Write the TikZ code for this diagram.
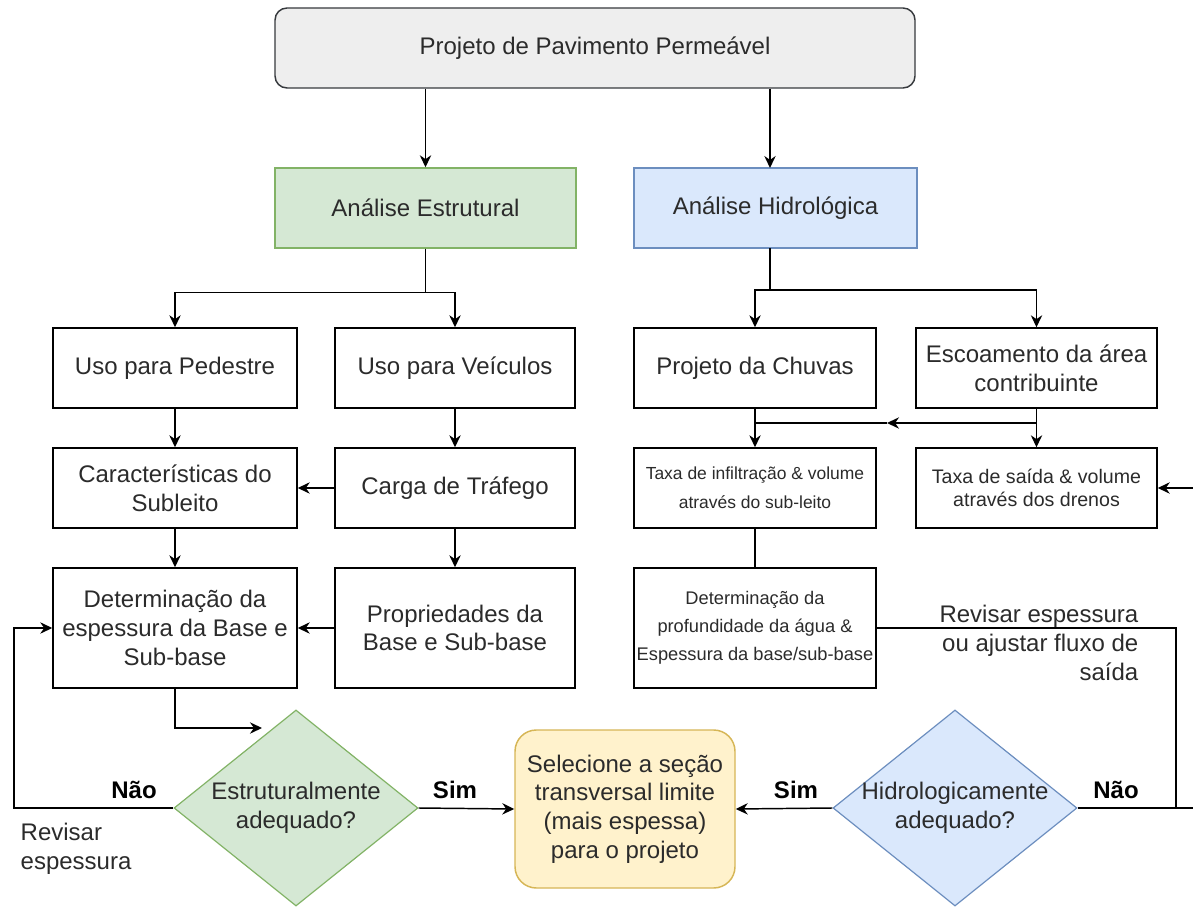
\documentclass[tikz,border=0pt]{standalone}
\usepackage{fontspec}
\setmainfont{Liberation Sans}
\usetikzlibrary{arrows.meta,shapes.geometric,positioning}
\definecolor{ink}{HTML}{000000}
\definecolor{txt}{HTML}{2B2B2B}
\definecolor{greyfill}{HTML}{EEEEEE}
\definecolor{greyline}{HTML}{36393D}
\definecolor{greenfill}{HTML}{D5E8D4}
\definecolor{greenline}{HTML}{82B366}
\definecolor{bluefill}{HTML}{DAE8FC}
\definecolor{blueline}{HTML}{6C8EBF}
\definecolor{yellowfill}{HTML}{FFF2CC}
\definecolor{yellowline}{HTML}{D6B656}
\tikzset{
  box/.style={draw=ink, line width=1.1pt, fill=white, text=txt, align=center, inner sep=2pt,
    minimum height=60pt, font=\fontsize{18}{21.5}\selectfont},
  smallbox/.style={box, font=\fontsize{13.1}{22}\selectfont},
  topbox/.style={box, draw=greyline, fill=greyfill, rounded corners=9pt},
  estrbox/.style={box, draw=greenline, fill=greenfill},
  hidrobox/.style={box, draw=blueline, fill=bluefill},
  selbox/.style={box, draw=yellowline, fill=yellowfill, rounded corners=16pt},
  decide/.style={diamond, draw, line width=0.9pt, inner sep=0pt,
    minimum width=183pt, minimum height=147pt},
  arr/.style={draw=ink, line width=1.1pt, -{Stealth[length=9pt,width=8.5pt]}},
  line/.style={draw=ink, line width=1.1pt},
  lab/.style={text=txt, font=\fontsize{18}{21.5}\selectfont},
  labb/.style={text=ink, font=\bfseries\fontsize{18}{21.5}\selectfont},
}
\begin{document}
\begin{tikzpicture}[x=0.75pt,y=-0.75pt]
  \useasboundingbox (0,0) rectangle (1193,909);
  % caixas
  \node[topbox, minimum width=480pt] (proj) at (595,48) {Projeto de Pavimento Permeável};
  \node[estrbox, minimum width=225.75pt] (estr) at (425.5,208) {Análise Estrutural};
  \node[hidrobox, minimum width=212.25pt] (hidro) at (775.5,208) {Análise Hidrológica};
  \node[box, minimum width=183pt] (pedestre) at (175,368) {Uso para Pedestre};
  \node[box, minimum width=180pt] (veiculos) at (455,368) {Uso para Veículos};
  \node[box, minimum width=183pt] (subleito) at (175,488) {Características do\\Subleito};
  \node[box, minimum width=180pt] (trafego) at (455,488) {Carga de Tráfego};
  \node[box, minimum width=183pt, minimum height=90pt] (detbase) at (175,628) {Determinação da\\espessura da Base e\\Sub-base};
  \node[box, minimum width=180pt, minimum height=90pt] (propr) at (455,628) {Propriedades da\\Base e Sub-base};
  \node[box, minimum width=181.5pt] (chuvas) at (755,368) {Projeto da Chuvas};
  \node[box, minimum width=180.75pt] (escoam) at (1036.5,368) {Escoamento da área\\contribuinte};
  \node[smallbox, minimum width=181.5pt] (infil) at (755,488) {Taxa de infiltração \& volume\\através do sub-leito};
  \node[smallbox, minimum width=180.75pt, font=\fontsize{14.7}{17.5}\selectfont] (saida) at (1036.5,488) {Taxa de saída \& volume\\através dos drenos};
  \node[smallbox, minimum width=181.5pt, minimum height=90pt, font=\fontsize{13.7}{21}\selectfont] (detagua) at (755,628) {Determinação da\\profundidade da água \&\\Espessura da base/sub-base};
  \node[selbox, minimum width=165pt, minimum height=118.5pt] (selec) at (625,809) {Selecione a seção\\transversal limite\\(mais espessa)\\para o projeto};
  \node[decide, draw=greenline, fill=greenfill] (dEstr) at (296,808) {};
  \node[lab, align=center] (dEstrT) at (dEstr) {Estruturalmente\\adequado?};
  \node[decide, draw=blueline, fill=bluefill] (dHidro) at (955,808) {};
  \node[lab, align=center] (dHidroT) at (dHidro) {Hidrologicamente\\adequado?};
  % pontos livres
  \coordinate (estrIn) at (262,728);
  \coordinate (junc) at (1036.5,423);
  \coordinate (mid) at (887,423);
  \coordinate (cantoR) at (1176,808);
  \coordinate (bordaR) at (1193,808);
  \coordinate (bordaS) at (1193,488);
  % ligacoes
  \draw[arr] (proj.south -| estr.north) -- (estr.north);
  \draw[arr] (proj.south -| 770,0) -- (770,168);
  \draw[arr] (estr.south) -- ++(0,44) -| (pedestre.north);
  \draw[arr] (estr.south) -- ++(0,44) -| (veiculos.north);
  \draw[arr] (770,248) -- (770,290) -| (chuvas.north);
  \draw[arr] (770,290) -| (escoam.north);
  \draw[arr] (pedestre) -- (subleito);
  \draw[arr] (veiculos) -- (trafego);
  \draw[arr] (trafego) -- (subleito);
  \draw[arr] (subleito) -- (detbase);
  \draw[arr] (trafego) -- (propr);
  \draw[arr] (propr) -- (detbase);
  \draw[arr] (detbase.south) |- (estrIn);
  \draw[arr] (dEstr.west) -- (14,808) |- (detbase.west);
  \draw[arr] (dEstr.east) -- (selec.west);
  \draw[arr] (chuvas) -- (infil);
  \draw[arr] (escoam) -- (saida);
  \draw[arr] (junc) -- (mid);
  \draw[line] (mid) -- (mid -| infil.north);
  \draw[line] (infil) -- (detagua);
  \draw[line] (detagua.east) -| (cantoR);
  \draw[line] (dHidro.east) -- (bordaR);
  \draw[arr] (bordaS) -- (saida.east);
  \draw[arr] (dHidro.west) -- (selec.east);
  % rotulos
  \node[labb] (naoE) at (134,790) {Não};
  \node[labb] (simE) at (455,790) {Sim};
  \node[labb] (simH) at (796,790) {Sim};
  \node[labb] (naoH) at (1116,790) {Não};
  \node[lab, align=left, anchor=west] (revE) at (16,849) {Revisar\\espessura};
  \node[lab, align=right, anchor=east] (revH) at (1143,643) {Revisar espessura\\ou ajustar fluxo de\\saída};
\end{tikzpicture}
\end{document}
